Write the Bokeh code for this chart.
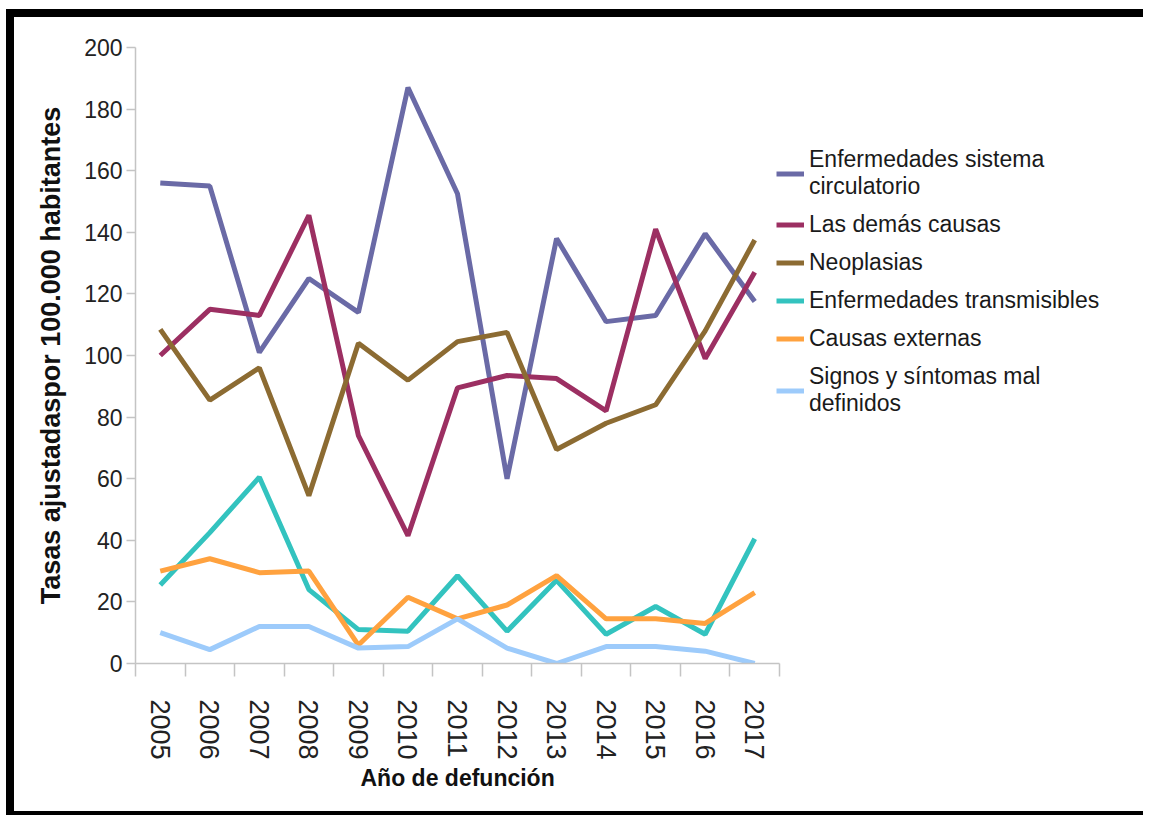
from bokeh.plotting import figure
from bokeh.models import FixedTicker, Legend, LegendItem, Range1d, Title
from bokeh.embed import file_html
from bokeh.resources import INLINE

years = [2005, 2006, 2007, 2008, 2009, 2010, 2011, 2012, 2013, 2014, 2015, 2016, 2017]
circulatorio = [156, 155, 101, 125, 114, 187, 152.5, 60, 138, 111, 113, 139.5, 117.5]
demas_causas = [100, 115, 113, 145.5, 74, 41.5, 89.5, 93.5, 92.5, 82, 141, 99, 127]
neoplasias = [108.5, 85.5, 96, 54.5, 104, 92, 104.5, 107.5, 69.5, 78, 84, 108, 137.5]
transmisibles = [25.5, 42.5, 60.5, 24, 11, 10.5, 28.5, 10.5, 27, 9.5, 18.5, 9.5, 40.5]
externas = [30, 34, 29.5, 30, 6, 21.5, 14.5, 19, 28.5, 14.5, 14.5, 13, 23]
signos = [10, 4.5, 12, 12, 5, 5.5, 14.5, 5, 0, 5.5, 5.5, 4, 0]

series_names = [
    "Enfermedades sistema\ncirculatorio",
    "Las demás causas",
    "Neoplasias",
    "Enfermedades transmisibles",
    "Causas externas",
    "Signos y síntomas mal\ndefinidos",
]
series_values = [circulatorio, demas_causas, neoplasias, transmisibles, externas, signos]
series_colors = ["#6A6AA6", "#9C2F62", "#8C6B32", "#33C3BF", "#FFA23F", "#9DCBFB"]

y_ticks = [0, 20, 40, 60, 80, 100, 120, 140, 160, 180, 200]

FONT = "'Liberation Sans', Arial, sans-serif"

W, H = 1143, 815
FRAME_L, FRAME_T, FRAME_B, AXIS_R = 135, 47, 663, 779
x_start = years[0] - 0.5
x_end = x_start + len(years) * (W - FRAME_L) / (AXIS_R - FRAME_L)

p = figure(width=W, height=H, output_backend="svg", toolbar_location=None,
           x_range=Range1d(x_start, x_end), y_range=Range1d(0, 200),
           min_border_left=FRAME_L, min_border_top=FRAME_T, min_border_right=0,
           min_border_bottom=H - FRAME_B)
p.outline_line_color = None
p.xgrid.grid_line_color = None
p.ygrid.grid_line_color = None
p.background_fill_color = "white"
p.border_fill_alpha = 0
p.styles = {"box-shadow": "inset 6px 0 0 0 #fff, inset 0 9px 0 0 #fff, "
                          "inset 14px 0 0 0 #000, inset 0 17px 0 0 #000, inset 0 -4px 0 0 #000"}

renderers = []
for vals, col in zip(series_values, series_colors):
    r = p.line(years, vals, line_width=5, line_color=col)
    renderers.append(r)

AX = "#C4C4C4"
xa = p.xaxis[0]
xa.bounds = (years[0] - 0.5, years[-1] + 0.5)
xa.ticker = FixedTicker(ticks=years, minor_ticks=[y - 0.5 for y in years] + [years[-1] + 0.5])
xa.major_tick_out = 0
xa.major_tick_in = 0
xa.minor_tick_out = 13
xa.minor_tick_in = 0
xa.minor_tick_line_color = AX
xa.minor_tick_line_width = 1.5
xa.axis_line_color = AX
xa.axis_line_width = 1.5
xa.major_label_orientation = "vertical"
xa.major_label_standoff = 23
xa.major_label_text_font = FONT
xa.major_label_text_font_size = "27px"
xa.major_label_text_color = "#222222"

xtitle = Title(text="Año de defunción", align="left", offset=225, standoff=0,
               text_font=FONT, text_font_size="23px", text_font_style="bold",
               text_color="#111111")
p.add_layout(xtitle, "below")

ya = p.yaxis[0]
ya.ticker = FixedTicker(ticks=y_ticks, minor_ticks=[])
ya.major_tick_out = 9
ya.major_tick_in = 0
ya.major_tick_line_color = AX
ya.major_tick_line_width = 1.5
ya.axis_line_color = AX
ya.axis_line_width = 1.5
ya.major_label_standoff = 4
ya.major_label_text_font = FONT
ya.major_label_text_font_size = "23px"
ya.major_label_text_color = "#222222"
ya.axis_label = "Tasas ajustadaspor 100.000 habitantes"
ya.axis_label_text_font = FONT
ya.axis_label_text_font_size = "27px"
ya.axis_label_text_font_style = "bold"
ya.axis_label_text_color = "#111111"
ya.axis_label_standoff = 15

items = [LegendItem(label=n, renderers=[r]) for n, r in zip(series_names, renderers)]
legend = Legend(items=items, location=(641, 246), padding=0, margin=0, spacing=11,
                glyph_width=28, glyph_height=15, label_height=15, label_width=20,
                label_standoff=5, label_text_font=FONT, label_text_font_size="23px",
                label_text_color="#1A1A1A",
                border_line_color=None, background_fill_alpha=0)
p.add_layout(legend)

open("out.html", "w").write(file_html(p, INLINE))
